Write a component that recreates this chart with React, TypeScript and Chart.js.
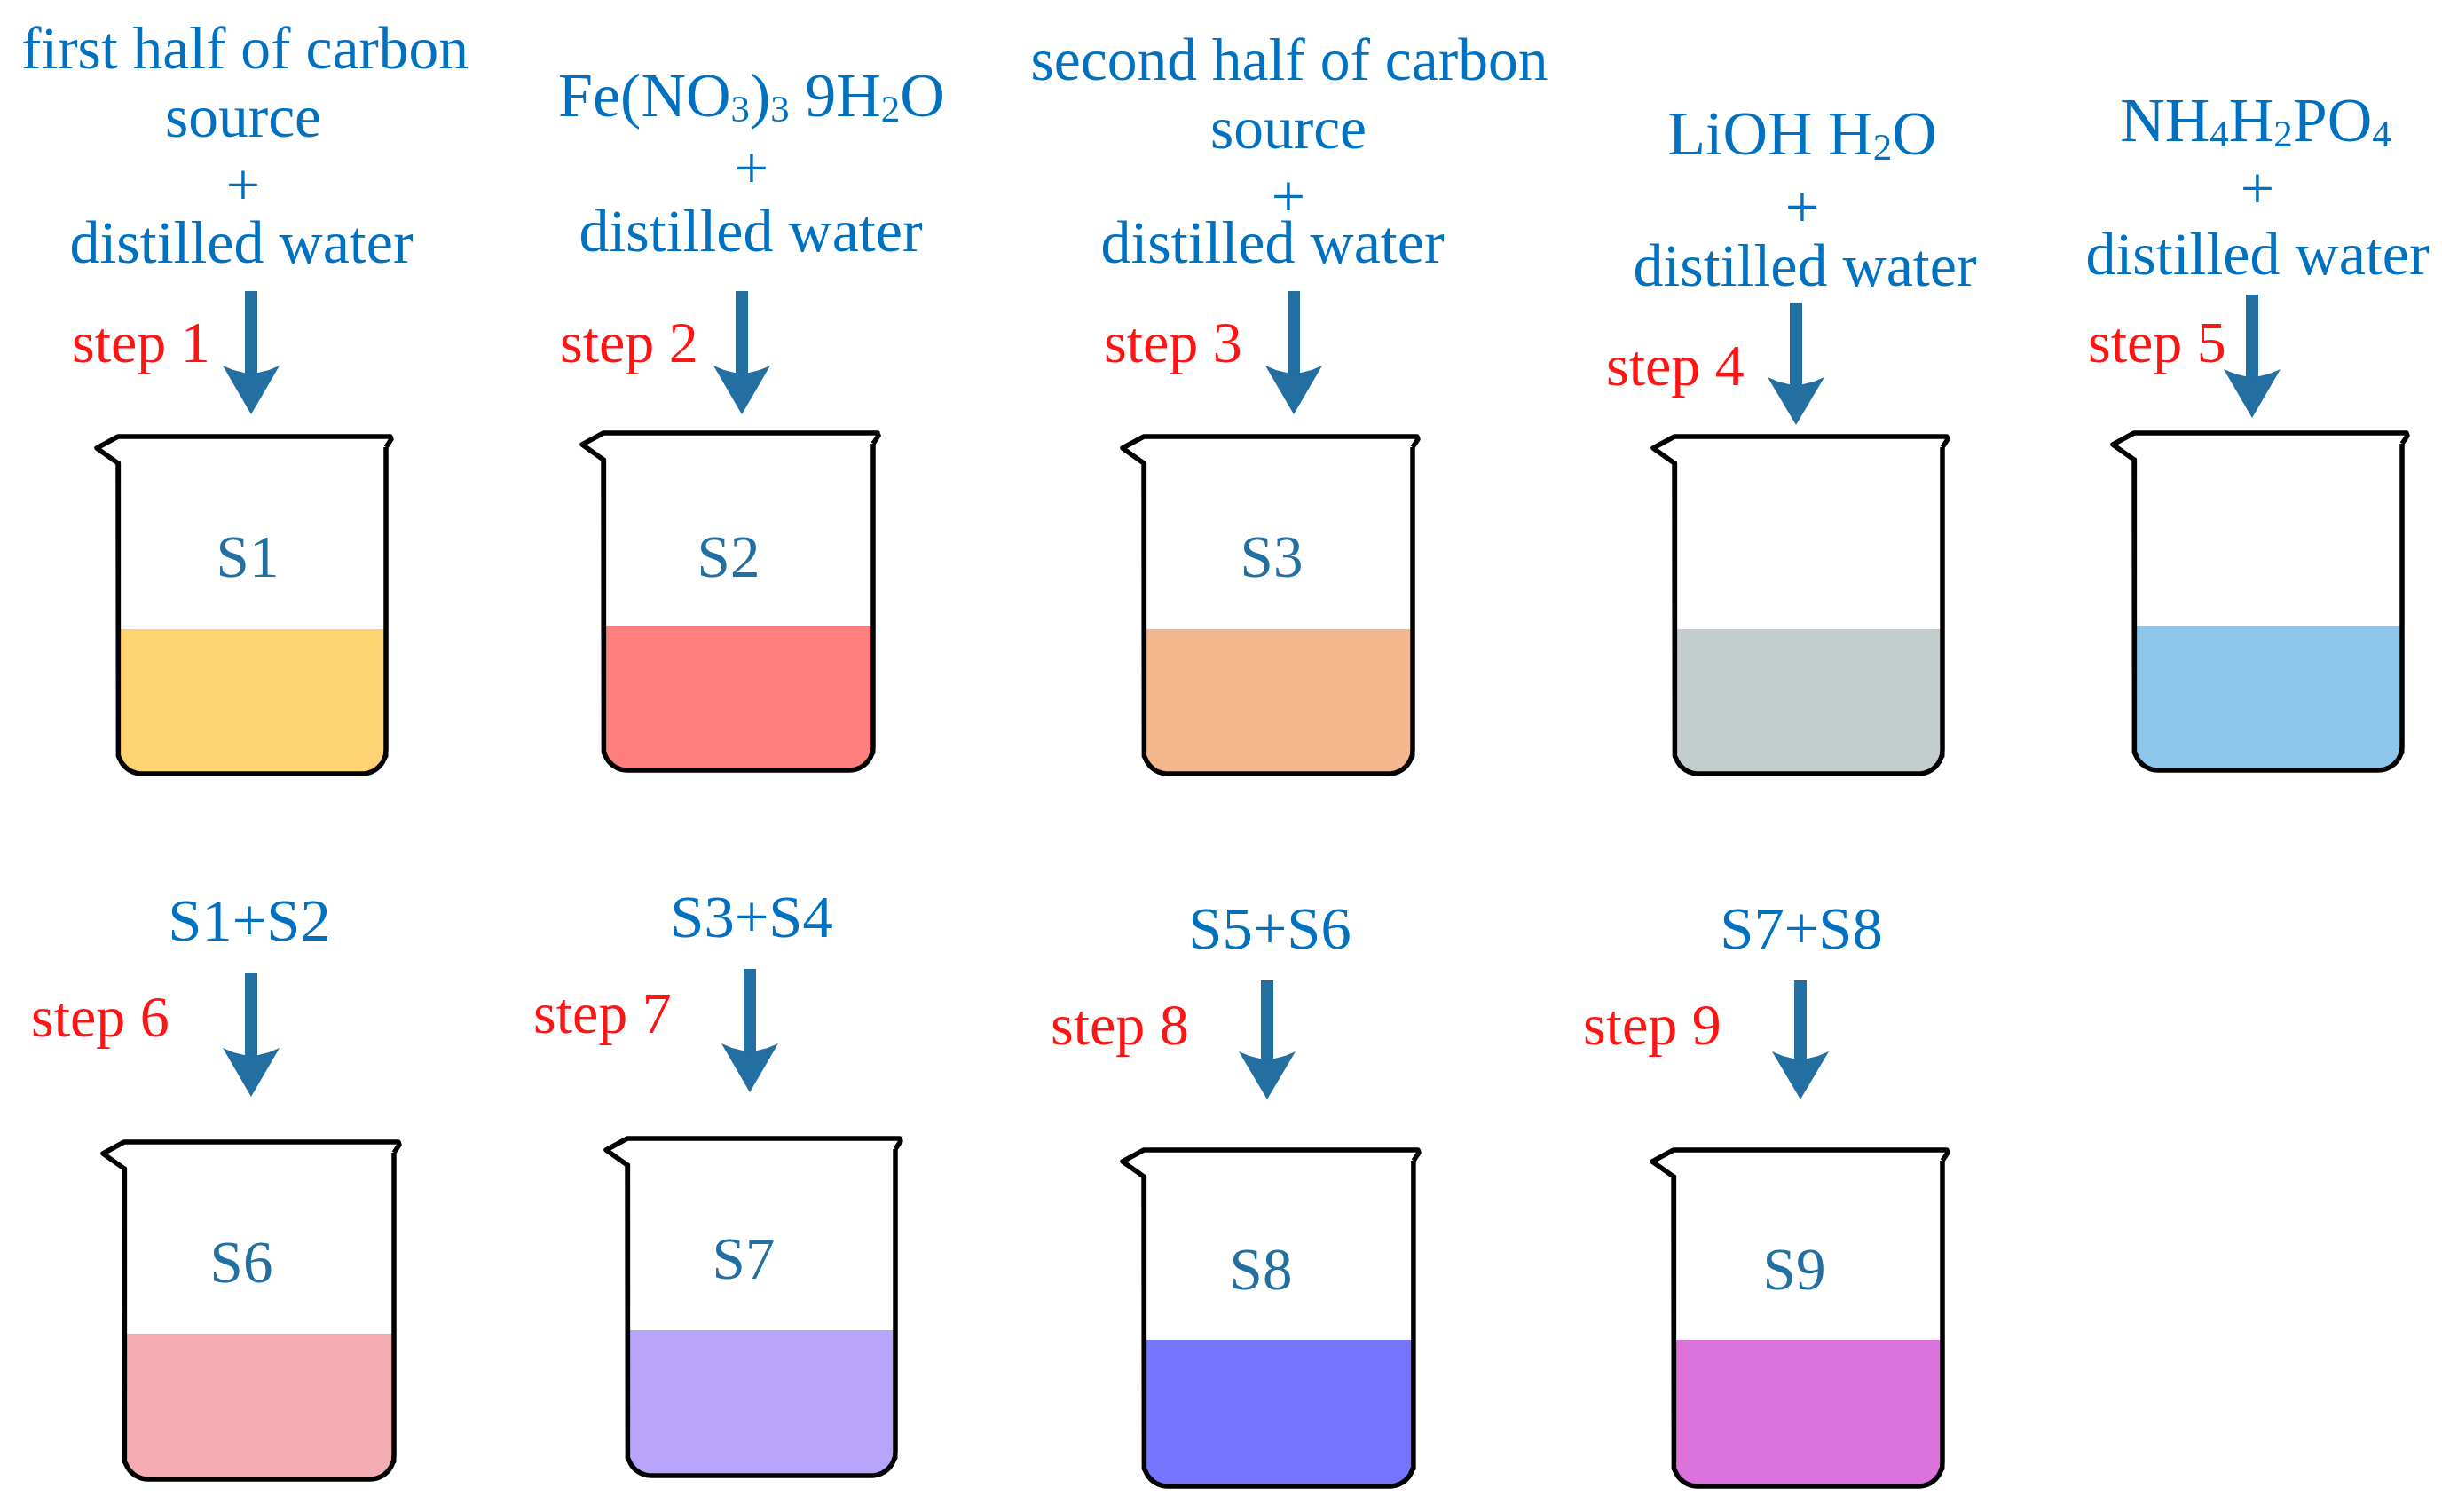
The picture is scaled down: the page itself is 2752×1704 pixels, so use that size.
import React, { useEffect, useRef } from "react";
import { Chart, registerables } from "chart.js";

Chart.register(...registerables);

// Beakers, in reading order
const beakerLeft = [133, 680, 1289, 1887, 2405, 140, 707, 1289, 1886];
const beakerRight = [435, 984, 1592, 2189, 2707, 444, 1009, 1593, 2189];
const beakerTop = [492, 488, 492, 492, 488, 1287, 1283, 1296, 1296];
const beakerBottom = [872, 868, 872, 872, 868, 1667, 1663, 1675, 1675];
const liquidLevel = [709, 705, 709, 709, 705, 1503, 1499, 1510, 1510];
const liquidColors = ["#FFD372", "#FF7F7F", "#F5B78E", "#C4CDCE", "#8FC6EB", "#F4AEB1", "#B9A4FC", "#7575FF", "#DC72DC"];

// Arrows
const arrowX = [283, 836, 1458, 2024, 2538, 283, 845, 1428, 2029];
const arrowTop = [328, 328, 328, 341, 332, 1096, 1092, 1105, 1105];
const arrowBarb = [412, 412, 412, 425, 416, 1181, 1176, 1185, 1185];
const arrowTip = [467, 467, 467, 479, 471, 1236, 1231, 1239, 1239];

// Step captions
const stepLabels = ["step 1", "step 2", "step 3", "step 4", "step 5", "step 6", "step 7", "step 8", "step 9"];
const stepX = [81, 631, 1244, 1810, 2353, 35, 601, 1184, 1784];
const stepY = [408, 408, 408, 434, 408, 1168, 1164, 1177, 1177];

// Sample names inside the beakers
const sampleLabels = ["S1", "S2", "S3", "S6", "S7", "S8", "S9"];
const sampleX = [279, 821, 1433, 272, 838, 1421, 2022];
const sampleY = [650, 650, 650, 1445, 1441, 1453, 1453];

// Reagent captions; "_" marks the subscript digit that follows
const captionLabels = [
  "first half of carbon", "source", "+", "distilled water",
  "Fe(NO_3)_3 9H_2O", "+", "distilled water",
  "second half of carbon", "source", "+", "distilled water",
  "LiOH H_2O", "+", "distilled water",
  "NH_4H_2PO_4", "+", "distilled water",
  "S1+S2", "S3+S4", "S5+S6", "S7+S8",
];
const captionX = [
  276, 274, 274, 272,
  847, 847, 846,
  1453, 1452, 1452, 1434,
  2031, 2031, 2034,
  2542, 2544, 2544,
  281, 847, 1431, 2030,
];
const captionY = [
  77, 154, 231, 296,
  131, 212, 283,
  90, 167, 244, 296,
  174, 256, 322,
  159, 235, 309,
  1060, 1056, 1069, 1069,
];

const FONT = '"Liberation Serif"';
const CORNER = 27;
const BLACK = "#000000";
const ARROW = "#236FA1";
const CAPTION = "#0070C0";
const RED = "#FF1414";

type P = { x: number; y: number };

function bottomCurve(l: number, r: number, b: number): P[] {
  const pts: P[] = [];
  for (let i = 0; i <= 12; i++) {
    const a = (i / 12) * (Math.PI / 2);
    pts.push({ x: l + CORNER - CORNER * Math.cos(a), y: b - CORNER + CORNER * Math.sin(a) });
  }
  for (let i = 12; i >= 0; i--) {
    const a = (i / 12) * (Math.PI / 2);
    pts.push({ x: r - CORNER + CORNER * Math.cos(a), y: b - CORNER + CORNER * Math.sin(a) });
  }
  return pts;
}

function buildDatasets() {
  const sets: any[] = [];
  const base = { pointRadius: 0, tension: 0, fill: false };
  beakerLeft.forEach((l, i) => {
    const r = beakerRight[i];
    const t = beakerTop[i];
    const b = beakerBottom[i];
    const lvl = liquidLevel[i];
    sets.push({
      ...base,
      order: 2,
      data: [{ x: l, y: lvl }, ...bottomCurve(l, r, b), { x: r, y: lvl }],
      borderWidth: 0,
      borderColor: "transparent",
      backgroundColor: liquidColors[i],
      fill: { target: { value: lvl } },
    });
    sets.push({
      ...base,
      order: 1,
      data: [
        { x: r, y: t + 12 },
        { x: r + 6, y: t + 3 },
        { x: r + 5, y: t },
        { x: l, y: t },
        { x: l - 24, y: t + 13 },
        { x: l, y: t + 30 },
        ...bottomCurve(l, r, b),
        { x: r, y: t + 12 },
      ],
      borderWidth: 5.5,
      borderColor: BLACK,
      borderJoinStyle: "round",
    });
  });
  arrowX.forEach((x, i) => {
    const barb = arrowBarb[i];
    const topIndex = sets.length;
    sets.push({
      ...base,
      order: 3,
      data: [
        { x: x - 32, y: barb },
        { x: x - 20, y: barb + 5 },
        { x: x - 8, y: barb + 8 },
        { x, y: barb + 9 },
        { x: x + 8, y: barb + 8 },
        { x: x + 20, y: barb + 5 },
        { x: x + 32, y: barb },
      ],
      borderWidth: 0,
      borderColor: "transparent",
    });
    sets.push({
      ...base,
      order: 3,
      data: [
        { x: x - 32, y: barb },
        { x, y: arrowTip[i] },
        { x: x + 32, y: barb },
      ],
      borderWidth: 0,
      borderColor: "transparent",
      backgroundColor: ARROW,
      fill: topIndex,
    });
    sets.push({
      ...base,
      order: 3,
      data: [
        { x, y: arrowTop[i] },
        { x, y: barb + 12 },
      ],
      borderWidth: 14,
      borderColor: ARROW,
      borderCapStyle: "butt",
    });
  });
  return sets;
}

function drawRuns(ctx: CanvasRenderingContext2D, text: string, cx: number, y: number, size: number, subSize: number) {
  const runs: { t: string; sub: boolean }[] = [];
  const parts = text.split("_");
  parts.forEach((part, i) => {
    if (i === 0) {
      if (part) runs.push({ t: part, sub: false });
    } else {
      runs.push({ t: part[0], sub: true });
      if (part.length > 1) runs.push({ t: part.slice(1), sub: false });
    }
  });
  const widths = runs.map((r) => {
    ctx.font = `${r.sub ? subSize : size}px ${FONT}`;
    return ctx.measureText(r.t).width;
  });
  let x = cx - widths.reduce((a, b) => a + b, 0) / 2;
  runs.forEach((r, i) => {
    ctx.font = `${r.sub ? subSize : size}px ${FONT}`;
    ctx.fillText(r.t, x, r.sub ? y + 6 : y);
    x += widths[i];
  });
}

function captionSize(t: string): number {
  if (t.includes("_")) return 70;
  if (t.includes("carbon") || t === "source") return 67.5;
  if (t.startsWith("S")) return 68.5;
  return 68;
}

const textPlugin = {
  id: "beakerText",
  afterDatasetsDraw(chart: any) {
    const { ctx, scales } = chart;
    const X = (v: number) => scales.x.getPixelForValue(v);
    const Y = (v: number) => scales.y.getPixelForValue(v);
    ctx.save();
    ctx.textBaseline = "alphabetic";
    ctx.textAlign = "left";
    ctx.fillStyle = CAPTION;
    captionLabels.forEach((t, i) => drawRuns(ctx, t, X(captionX[i]), Y(captionY[i]), captionSize(t), 43));
    ctx.fillStyle = ARROW;
    sampleLabels.forEach((t, i) => drawRuns(ctx, t, X(sampleX[i]), Y(sampleY[i]), 67, 38));
    ctx.fillStyle = RED;
    ctx.font = `66px ${FONT}`;
    stepLabels.forEach((t, i) => ctx.fillText(t, X(stepX[i]), Y(stepY[i])));
    ctx.restore();
  },
};

export default function App() {
  const ref = useRef<HTMLCanvasElement | null>(null);
  useEffect(() => {
    document.body.style.margin = "0";
    document.body.style.background = "#ffffff";
    const chart = new Chart(ref.current as HTMLCanvasElement, {
      type: "line",
      data: { datasets: buildDatasets() },
      plugins: [textPlugin],
      options: {
        animation: false,
        responsive: false,
        devicePixelRatio: 1,
        parsing: { xAxisKey: "x", yAxisKey: "y" },
        layout: { padding: 0 },
        plugins: { legend: { display: false }, tooltip: { enabled: false } },
        scales: {
          x: { type: "linear", min: 0, max: 2752, display: false },
          y: { type: "linear", min: 0, max: 1704, reverse: true, display: false },
        },
      },
    } as any);
    return () => chart.destroy();
  }, []);
  return <canvas ref={ref} width={2752} height={1704} style={{ display: "block", width: 2752, height: 1704 }} />;
}
